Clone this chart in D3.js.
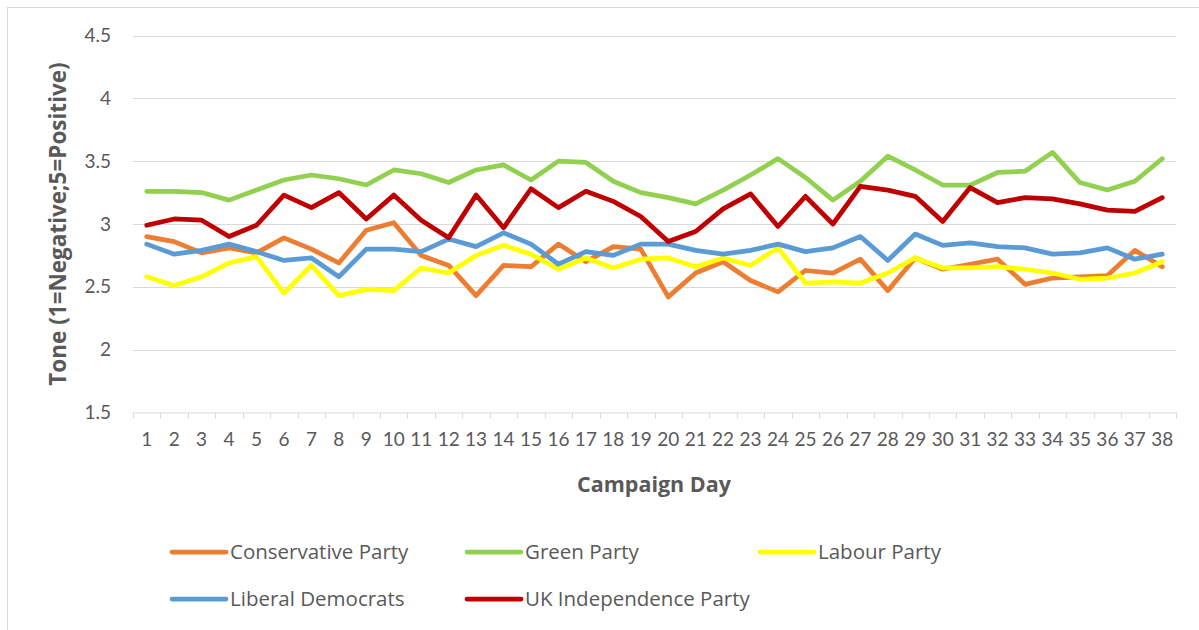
<!DOCTYPE html>
<html><head><meta charset="utf-8">
<script src="https://d3js.org/d3.v7.min.js"></script>
<style>body{margin:0;background:#fff}svg{display:block}</style>
</head><body><svg id="c" width="1199" height="630"></svg>
<script>
const days = d3.range(1, 39).map(String);
const conservative = [2.90,2.86,2.77,2.81,2.77,2.89,2.80,2.69,2.95,3.01,2.75,2.67,2.43,2.67,2.66,2.84,2.70,2.82,2.80,2.42,2.61,2.70,2.55,2.46,2.63,2.61,2.72,2.47,2.73,2.64,2.68,2.72,2.52,2.57,2.58,2.59,2.79,2.66];
const green = [3.26,3.26,3.25,3.19,3.27,3.35,3.39,3.36,3.31,3.43,3.40,3.33,3.43,3.47,3.35,3.50,3.49,3.34,3.25,3.21,3.16,3.27,3.39,3.52,3.37,3.19,3.34,3.54,3.43,3.31,3.31,3.41,3.42,3.57,3.33,3.27,3.34,3.52];
const labour = [2.58,2.51,2.58,2.69,2.74,2.45,2.67,2.43,2.48,2.47,2.65,2.61,2.75,2.83,2.76,2.64,2.73,2.65,2.72,2.73,2.66,2.73,2.67,2.81,2.53,2.54,2.53,2.61,2.73,2.65,2.65,2.66,2.64,2.61,2.56,2.57,2.61,2.70];
const libdem = [2.84,2.76,2.79,2.84,2.78,2.71,2.73,2.58,2.80,2.80,2.78,2.88,2.82,2.93,2.84,2.68,2.78,2.75,2.84,2.84,2.79,2.76,2.79,2.84,2.78,2.81,2.90,2.71,2.92,2.83,2.85,2.82,2.81,2.76,2.77,2.81,2.72,2.76];
const ukip = [2.99,3.04,3.03,2.90,2.99,3.23,3.13,3.25,3.04,3.23,3.03,2.89,3.23,2.97,3.28,3.13,3.26,3.18,3.06,2.86,2.94,3.12,3.24,2.98,3.22,3.00,3.30,3.27,3.22,3.02,3.29,3.17,3.21,3.20,3.16,3.11,3.10,3.21];
const yTicks = [1.5,2,2.5,3,3.5,4,4.5];
const seriesNames = ["Conservative Party","Green Party","Labour Party","Liberal Democrats","UK Independence Party"];
const seriesColors = ["#ED7D31","#92D050","#FFFF00","#5B9BD5","#C00000"];
const seriesValues = [conservative, green, labour, libdem, ukip];

const svg = d3.select("#c");
const font = "Lato, 'Open Sans', sans-serif";
const font2 = "'Open Sans', sans-serif";
const txt = "#595959";

svg.append("rect").attr("x",7.5).attr("y",7.5).attr("width",1200).attr("height",640)
  .attr("fill","#fff").attr("stroke","#d9d9d9");

const x = d3.scaleBand().domain(days).range([133, 1176]).padding(0);
const y = d3.scaleLinear().domain([1.5, 4.5]).range([412.5, 35.5]);

svg.append("g").selectAll("line").data(yTicks.slice(1)).join("line")
  .attr("x1",133).attr("x2",1176).attr("y1",d=>Math.round(y(d))+0.5).attr("y2",d=>Math.round(y(d))+0.5)
  .attr("stroke","#d9d9d9").attr("stroke-width",1);

const yAxis = svg.append("g").attr("transform","translate(133,0)")
  .call(d3.axisLeft(y).tickValues(yTicks).tickSize(0).tickPadding(22).tickFormat(d=>String(d)));
yAxis.select(".domain").remove();
yAxis.selectAll("text").attr("font-family",font).attr("font-size",19).attr("fill",txt);

const xAxis = svg.append("g").attr("transform","translate(0,412.5)")
  .call(d3.axisBottom(x).tickSize(0).tickPadding(20));
xAxis.select(".domain").attr("stroke","#d9d9d9");
xAxis.selectAll("text").attr("font-family",font).attr("font-size",19).attr("fill",txt);
const bounds = days.map(d=>x(d)).concat([x(days[days.length-1])+x.bandwidth()]);
svg.append("g").selectAll("line").data(bounds).join("line")
  .attr("x1",d=>Math.round(d)+0.5).attr("x2",d=>Math.round(d)+0.5).attr("y1",412.5).attr("y2",418)
  .attr("stroke","#d9d9d9");

const line = d3.line().x((d,i)=>x(days[i])+x.bandwidth()/2).y(d=>y(d));
seriesValues.forEach((vals,k)=>{
  svg.append("path").datum(vals).attr("d",line).attr("fill","none")
    .attr("stroke",seriesColors[k]).attr("stroke-width",4.75).attr("stroke-linejoin","round").attr("stroke-linecap","round");
});

svg.append("text").attr("x",654).attr("y",492).attr("text-anchor","middle")
  .attr("font-family",font2).attr("font-size",21.5).attr("font-weight","bold").attr("fill",txt).text("Campaign Day");
svg.append("text").attr("transform","translate(66,224) rotate(-90)").attr("text-anchor","middle")
  .attr("font-family",font2).attr("font-size",22.5).attr("font-weight","bold").attr("fill",txt).text("Tone (1=Negative;5=Positive)");

const legPos = [[170,552],[465,552],[758,552],[170,599],[465,599]];
seriesNames.forEach((n,k)=>{
  const [lx,ly] = legPos[k];
  svg.append("line").attr("x1",lx+2).attr("x2",lx+56).attr("y1",ly).attr("y2",ly)
    .attr("stroke",seriesColors[k]).attr("stroke-width",4.75).attr("stroke-linecap","round");
  svg.append("text").attr("x",lx+60).attr("y",ly).attr("dy","0.35em")
    .attr("font-family",font2).attr("font-size",20.5).attr("fill",txt).text(n);
});
</script></body></html>
